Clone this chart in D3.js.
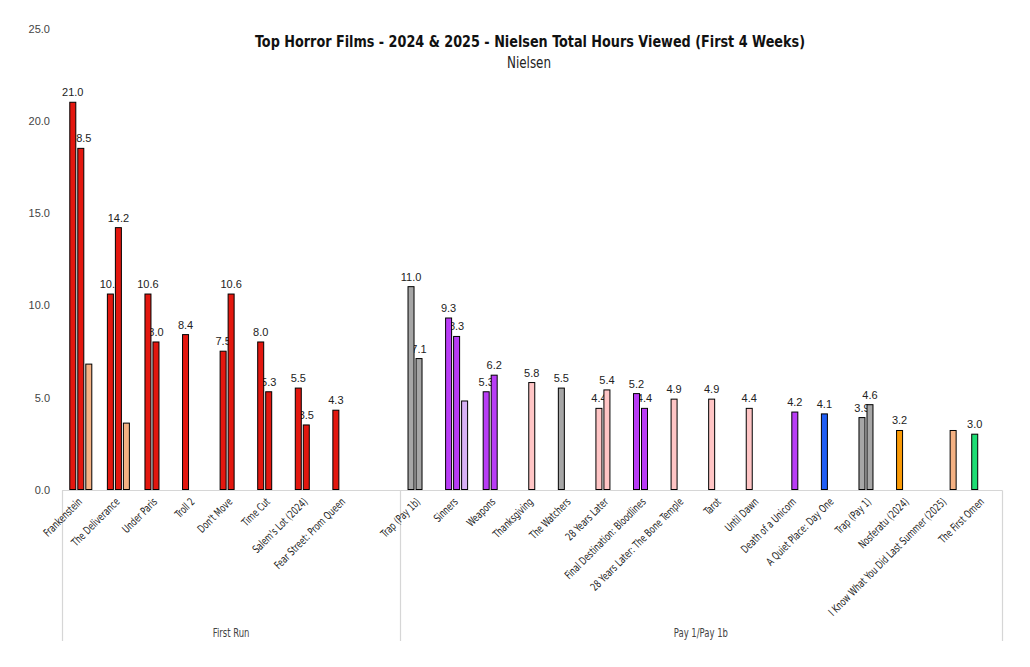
<!DOCTYPE html>
<html><head><meta charset="utf-8">
<script src="https://cdn.jsdelivr.net/npm/d3@7"></script>
<style>
body{margin:0;background:#fff;}
svg{display:block;}
</style></head><body>
<svg id="chart" width="1030" height="667"></svg>
<script>
const categories = ["Frankenstein","The Deliverance","Under Paris","Troll 2","Don't Move","Time Cut","Salem's Lot (2024)","Fear Street: Prom Queen"," ",
  "Trap (Pay 1b)","Sinners","Weapons","Thanksgiving","The Watchers","28 Years Later","Final Destination: Bloodlines","28 Years Later: The Bone Temple","Tarot","Until Dawn","Death of a Unicorn","A Quiet Place: Day One","Trap (Pay 1)","Nosferatu (2024)","I Know What You Did Last Summer (2025)","The First Omen"];
const groups = ["First Run","Pay 1/Pay 1b"];
const groupSizes = [9,16];
const series1 = [21.0,10.6,10.6,8.4,7.5,8.0,5.5,4.3,null, 11.0,9.3,5.3,null,5.5,4.4,5.2,4.9,4.9,4.4,null,4.1,3.9,3.2,null,3.0];
const series2 = [18.5,14.2,8.0,null,10.6,5.3,3.5,null,null, 7.1,8.3,6.2,5.8,null,5.4,4.4,null,null,null,4.2,null,4.6,null,null,null];
const series3 = [6.8,3.6,null,null,null,null,null,null,null, null,4.8,null,null,null,null,null,null,null,null,null,null,null,null,3.2,null];
const colors1 = ["#e3170f","#e3170f","#e3170f","#e3170f","#e3170f","#e3170f","#e3170f","#e3170f",null,
  "#a6a6a6","#b83cf5","#b83cf5",null,"#a6a6a6","#ffc5c5","#b83cf5","#ffc5c5","#ffc5c5","#ffc5c5",null,"#1f5ef5","#a6a6a6","#fa9a06",null,"#1ddd74"];
const colors2 = ["#e3170f","#e3170f","#e3170f",null,"#e3170f","#e3170f","#e3170f",null,null,
  "#a6a6a6","#b83cf5","#b83cf5","#ffc5c5",null,"#ffc5c5","#b83cf5",null,null,null,"#b83cf5",null,"#a6a6a6",null,null,null];
const colors3 = ["#f4b183","#f4b183",null,null,null,null,null,null,null,
  null,"#d8b2f6",null,null,null,null,null,null,null,null,null,null,null,null,"#f4b183",null];
const showLabel = [true,true,false];
const yTicks = [0,5,10,15,20,25];
const title = "Top Horror Films - 2024 & 2025 - Nielsen Total Hours Viewed (First 4 Weeks)";
const subtitle = "Nielsen";

const svg = d3.select("#chart");
const mLeft = 62, mRight = 1001.5, mTop = 28.5, mBottom = 489.5;
const x0 = d3.scaleBand().domain(d3.range(categories.length)).range([mLeft, mRight]).padding(0);
const x1 = d3.scaleBand().domain([0,1,2]).range([7.3, 31.3]).padding(0);
const y = d3.scaleLinear().domain([0,25]).range([mBottom, mTop]);

const condensed = "'DejaVu Sans Condensed','Roboto',sans-serif";

// title
svg.append("text").attr("x",530).attr("y",47).attr("text-anchor","middle")
  .attr("textLength",550).attr("lengthAdjust","spacingAndGlyphs")
  .style("font-family",condensed).style("font-weight","bold").style("font-size","16.5px").attr("fill","#111").text(title);
svg.append("text").attr("x",529).attr("y",68).attr("text-anchor","middle")
  .attr("textLength",44).attr("lengthAdjust","spacingAndGlyphs")
  .style("font-family",condensed).style("font-size","15px").attr("fill","#222").text(subtitle);

// y axis labels
const yAxis = d3.axisLeft(y).tickValues(yTicks).tickFormat(d3.format(".1f")).tickSize(0).tickPadding(0);
const ya = svg.append("g").attr("transform","translate(50,0)").call(yAxis);
ya.select(".domain").remove();
ya.selectAll("text").style("font-family","'Liberation Sans',Arial,sans-serif").style("font-size","11px").attr("fill","#444").attr("dy","0.35em");

// group frame lines
const gLines = svg.append("g").attr("stroke","#d6d6d6").attr("stroke-width",1.2);
gLines.append("line").attr("x1",mLeft).attr("x2",mRight+1).attr("y1",mBottom+1).attr("y2",mBottom+1);
let acc = 0;
const bounds = [mLeft];
groupSizes.forEach(n=>{acc+=n; bounds.push(x0(acc-1)+x0.bandwidth());});
bounds.forEach((b,i)=>{
  const xx = Math.round(b)+0.5;
  gLines.append("line").attr("x1",xx).attr("x2",xx).attr("y1",mBottom+1).attr("y2",641);
});
groups.forEach((g,i)=>{
  const x = (bounds[i]+bounds[i+1])/2;
  svg.append("text").attr("transform",`translate(${x},637) scale(0.82,1)`).attr("text-anchor","middle")
    .style("font-family",condensed).style("font-size","11.5px").attr("fill","#444").text(g);
});

// category labels
const xl = svg.append("g");
categories.forEach((c,i)=>{
  const cx = x0(i)+x0.bandwidth()/2 + 2;
  xl.append("text").attr("transform",`translate(${cx},${mBottom+13}) rotate(-45) scale(0.78,1)`)
    .attr("text-anchor","end")
    .style("font-family",condensed).style("font-size","11px").attr("fill","#222").text(c.trim());
});

const allSeries = [series1,series2,series3];
const allColors = [colors1,colors2,colors3];

// data labels (drawn beneath bars)
const lab = svg.append("g");
allSeries.forEach((s,k)=>{
  if(!showLabel[k]) return;
  s.forEach((v,i)=>{
    if(v==null) return;
    lab.append("text").attr("x",x0(i)+x1(k)+x1.bandwidth()/2 - 0.5).attr("y",y(v)-6)
      .attr("text-anchor","middle").style("font-family","'Liberation Sans',Arial,sans-serif")
      .style("font-size","11px").attr("fill","#222").text(d3.format(".1f")(v));
  });
});

// bars
const bars = svg.append("g");
allSeries.forEach((s,k)=>{
  s.forEach((v,i)=>{
    if(v==null) return;
    bars.append("rect").attr("x",x0(i)+x1(k)+0.5).attr("y",y(v)).attr("width",x1.bandwidth()-2)
      .attr("height",mBottom - y(v)).attr("fill",allColors[k][i]).attr("stroke","#000").attr("stroke-width",1);
  });
});
</script>
</body></html>
